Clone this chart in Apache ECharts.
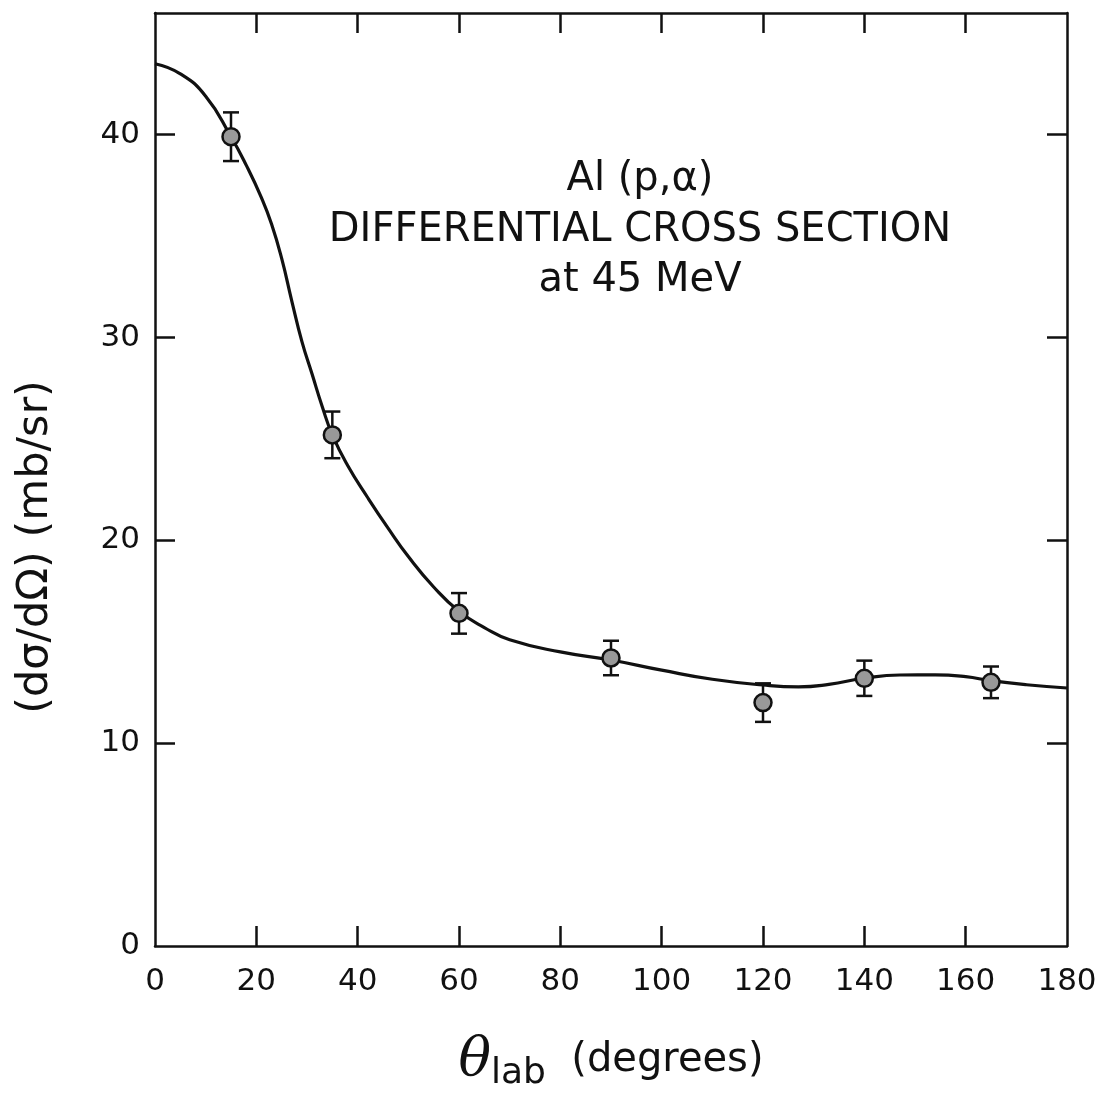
<!DOCTYPE html>
<html>
<head>
<meta charset="utf-8">
<script src="https://cdn.jsdelivr.net/npm/echarts@6/dist/echarts.min.js"></script>
<style>
html,body{margin:0;padding:0;background:#fff;}
#chart{width:1102px;height:1097px;}
</style>
</head>
<body>
<div id="chart"></div>
<script>
// Measured data points
var angles = [15, 35, 60, 90, 120, 140, 165];
var values = [39.9, 25.2, 16.4, 14.2, 12.0, 13.2, 13.0];
var errors = [1.2, 1.15, 1.0, 0.85, 0.95, 0.87, 0.78];

// Fitted curve
var curveAngles = [0, 5, 10, 15, 18, 21, 23, 25, 27, 29, 31, 33, 35, 38, 42, 46, 50, 55, 60, 65, 70, 80, 90, 100, 110, 120, 127, 133, 140, 147, 154, 160, 165, 172, 180];
var curveValues = [43.5, 43.0, 41.9, 39.9, 38.5, 36.9, 35.6, 33.9, 31.8, 29.8, 28.2, 26.6, 25.2, 23.7, 22.1, 20.6, 19.2, 17.7, 16.5, 15.7, 15.1, 14.5, 14.1, 13.6, 13.15, 12.87, 12.78, 12.9, 13.2, 13.36, 13.37, 13.28, 13.08, 12.88, 12.72];

var xTicks = [0, 20, 40, 60, 80, 100, 120, 140, 160, 180];
var yTicks = [0, 10, 20, 30, 40];

var titleLines = ['Al (p,\u03b1)', 'DIFFERENTIAL CROSS SECTION', 'at 45 MeV'];
var yName = '(d\u03c3/d\u03a9) (mb/sr)';

var curveData = curveAngles.map(function (a, i) { return [a, curveValues[i]]; });
var pointData = angles.map(function (a, i) { return [a, values[i], errors[i]]; });

var FONT = 'DejaVu Sans';
var INK = '#111';
var chart = echarts.init(document.getElementById('chart'));

var tickLen = 20;
function axisCommon(extra) {
  var base = {
    axisLine: {show: true, onZero: false, lineStyle: {color: INK, width: 2.5}},
    splitLine: {show: false}
  };
  for (var k in extra) base[k] = extra[k];
  return base;
}
var innerX = xTicks.slice(1, -1);
var innerY = yTicks.slice(1);

var titleGraphics = titleLines.map(function (t, i) {
  return {
    type: 'text', x: 640, y: 180 + i * 50.5,
    style: {text: t, font: '40px "' + FONT + '"', fill: INK, align: 'center', verticalAlign: 'middle'}
  };
});
titleGraphics.push({
  type: 'text', x: 36, y: 547, rotation: Math.PI / 2,
  style: {text: yName, font: '43px "' + FONT + '"', fill: INK, align: 'center', verticalAlign: 'middle'}
});

var option = {
  backgroundColor: '#fff',
  animation: false,
  grid: {left: 155, right: 35, top: 13, bottom: 148},
  xAxis: [axisCommon({
    type: 'value', min: 0, max: 180, interval: 20, position: 'bottom',
    axisTick: {inside: true, length: tickLen, lineStyle: {color: INK, width: 2.5}, customValues: innerX},
    axisLabel: {customValues: xTicks, color: INK, fontFamily: FONT, fontSize: 31, margin: 20},
    name: '{t|\u03b8}{s|lab}{n|  (degrees)}',
    nameLocation: 'middle', nameGap: 84,
    nameTextStyle: {
      rich: {
        t: {fontFamily: 'DejaVu Serif', fontStyle: 'italic', fontSize: 54, color: INK},
        s: {fontFamily: FONT, fontSize: 36, color: INK, padding: [26, 0, 0, 0]},
        n: {fontFamily: FONT, fontSize: 40, color: INK}
      }
    }
  }), axisCommon({
    type: 'value', min: 0, max: 180, interval: 20, position: 'top',
    axisTick: {inside: true, length: tickLen, lineStyle: {color: INK, width: 2.5}, customValues: innerX},
    axisLabel: {show: false}
  })],
  yAxis: [axisCommon({
    type: 'value', min: 0, max: 46, interval: 10, position: 'left',
    axisTick: {inside: true, length: tickLen, lineStyle: {color: INK, width: 2.5}, customValues: innerY},
    axisLabel: {customValues: yTicks, color: INK, fontFamily: FONT, fontSize: 31, margin: 15}
  }), axisCommon({
    type: 'value', min: 0, max: 46, interval: 10, position: 'right',
    axisTick: {inside: true, length: tickLen, lineStyle: {color: INK, width: 2.5}, customValues: innerY},
    axisLabel: {show: false}
  })],
  graphic: titleGraphics,
  series: [{
    type: 'line', data: curveData, smooth: 0.5, showSymbol: false,
    lineStyle: {color: INK, width: 3.2}, xAxisIndex: 0, yAxisIndex: 0, z: 2
  }, {
    type: 'custom', data: pointData, xAxisIndex: 0, yAxisIndex: 0, z: 3,
    renderItem: function (params, api) {
      var x = api.value(0), y = api.value(1), e = api.value(2);
      var c = api.coord([x, y]);
      var top = api.coord([x, y + e]);
      var bot = api.coord([x, y - e]);
      var cap = 8;
      var ls = {stroke: INK, lineWidth: 2.5};
      return {
        type: 'group',
        children: [
          {type: 'line', shape: {x1: c[0], y1: top[1], x2: c[0], y2: bot[1]}, style: ls},
          {type: 'line', shape: {x1: c[0] - cap, y1: top[1], x2: c[0] + cap, y2: top[1]}, style: ls},
          {type: 'line', shape: {x1: c[0] - cap, y1: bot[1], x2: c[0] + cap, y2: bot[1]}, style: ls},
          {type: 'circle', shape: {cx: c[0], cy: c[1], r: 8.5}, style: {fill: '#999', stroke: INK, lineWidth: 2.5}}
        ]
      };
    }
  }]
};
chart.setOption(option);
</script>
</body>
</html>
